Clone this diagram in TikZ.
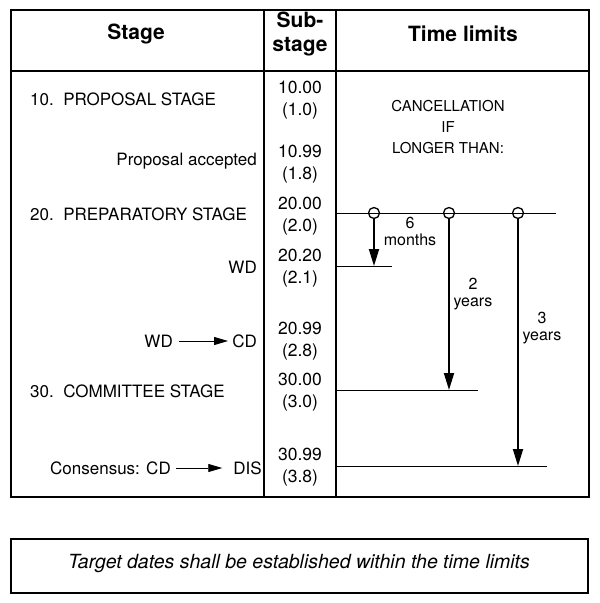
\documentclass[tikz,border=0pt]{standalone}
\usepackage{fontspec}
\setmainfont{TeX Gyre Heros}
\usetikzlibrary{arrows.meta}
\begin{document}
\begin{tikzpicture}[x=1pt,y=-1pt,
  frame/.style={line width=1.2pt},
  hdr/.style={inner sep=0pt, font=\fontsize{21}{24}\selectfont\bfseries, align=center},
  body/.style={inner sep=0pt, font=\fontsize{17}{19}\selectfont},
  num/.style={inner sep=0pt, font=\fontsize{17.5}{21.5}\selectfont, align=center},
  lim/.style={inner sep=0pt, font=\fontsize{15}{21}\selectfont, align=center},
  dur/.style={inner sep=0pt, font=\fontsize{16}{17}\selectfont, align=center},
  tline/.style={line width=1pt},
  darrow/.style={line width=1.8pt, -{Triangle[length=17pt,width=10pt]}},
  txtarrow/.style={line width=0.9pt, -{Triangle[length=14pt,width=8pt]}},
  ring/.style={circle, draw, line width=1.3pt, minimum size=11pt, inner sep=0pt}]
\useasboundingbox (0,0) rectangle (600,603);
% main frame
\draw[frame] (11,10) rectangle (589,497);
\draw[frame] (11,71) -- (589,71);
\draw[frame] (264,10) -- (264,497);
\draw[frame] (336,10) -- (336,497);
% headers
\node[hdr] (hstage) at (136,34) {Stage};
\node[hdr] (hsub) at (300,34) {Sub-\\stage};
\node[hdr] (htime) at (463,34) {Time limits};
% stage column
\node[body, anchor=west] (s10) at (30,99) {10.\ \ PROPOSAL STAGE};
\node[body, anchor=east] (pacc) at (257,161) {Proposal accepted};
\node[body, anchor=west] (s20) at (30,214) {20.\ \ PREPARATORY STAGE};
\node[body, anchor=east] (wd) at (257,267) {WD};
\node[body, anchor=east] (cd1) at (257,341) {CD};
\node[body, anchor=east] (wd1) at (173,341) {WD};
\draw[txtarrow] (wd1.east) ++(6,0) -- ([xshift=-4pt]cd1.west);
\node[body, anchor=west] (s30) at (30,391) {30.\ \ COMMITTEE STAGE};
\node[body, anchor=east] (dis) at (262,468) {DIS};
\node[body, anchor=east] (cons) at (171,468) {Consensus: CD};
\draw[txtarrow] (cons.east) ++(5,0) -- ([xshift=-11pt]dis.west);
% substage column
\node[num] (n1000) at (300,100) {10.00\\(1.0)};
\node[num] (n1099) at (300,164) {10.99\\(1.8)};
\node[num] (n2000) at (300,216) {20.00\\(2.0)};
\node[num] (n2020) at (300,268) {20.20\\(2.1)};
\node[num] (n2099) at (300,341) {20.99\\(2.8)};
\node[num] (n3000) at (300,392) {30.00\\(3.0)};
\node[num] (n3099) at (300,467) {30.99\\(3.8)};
% time limits column
\node[lim] (canc) at (448,127) {CANCELLATION\\IF\\LONGER THAN:};
\coordinate (l20a) at (336,213);
\coordinate (l20b) at (556,213);
\draw[tline] (l20a) -- (l20b);
\node[ring] (r1) at (374,213) {};
\node[ring] (r2) at (449,213) {};
\node[ring] (r3) at (518,213) {};
\coordinate (l22a) at (336,266);
\coordinate (l22b) at (392,266);
\draw[tline] (l22a) -- (l22b);
\coordinate (l30a) at (336,390);
\coordinate (l30b) at (478,390);
\draw[tline] (l30a) -- (l30b);
\coordinate (l38a) at (336,466);
\coordinate (l38b) at (547,466);
\draw[tline] (l38a) -- (l38b);
\draw[darrow] (r1.south) -- (374,266);
\draw[darrow] (r2.south) -- (449,390);
\draw[darrow] (r3.south) -- (518,466);
\node[dur] (t6m) at (410,231) {6\\months};
\node[dur] (t2y) at (473,294) {2\\years};
\node[dur] (t3y) at (542,328) {3\\years};
% bottom box
\draw[frame] (11,539) rectangle (588,593);
\node[inner sep=0pt, font=\fontsize{19.5}{22}\selectfont\itshape] (target) at (299,564) {Target dates shall be established within the time limits};
\end{tikzpicture}
\end{document}
